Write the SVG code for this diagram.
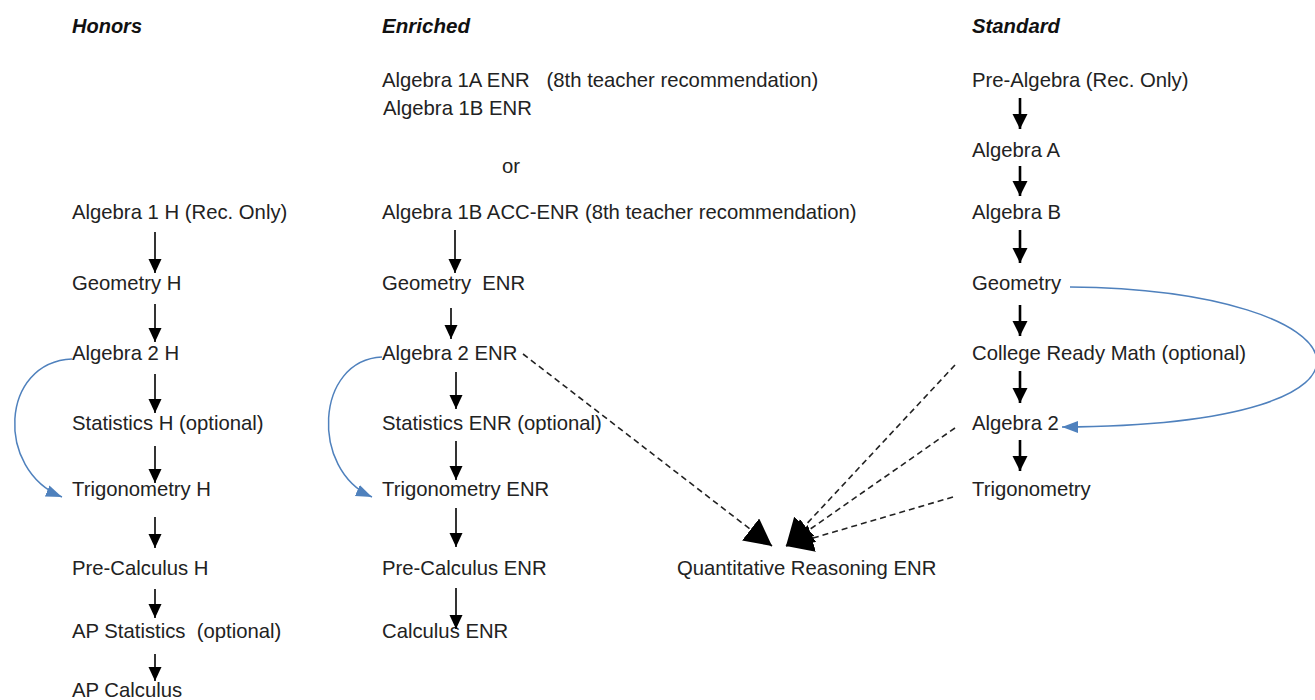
<svg xmlns="http://www.w3.org/2000/svg" width="1315" height="700" viewBox="0 0 1315 700">
<defs>
<style>
.t{font-family:"Liberation Sans",Arial,sans-serif;font-size:20.3px;fill:#222}
.h{font-family:"Liberation Sans Narrow","Liberation Sans",Arial,sans-serif;font-size:21px;font-weight:bold;font-style:italic;fill:#111}
.a{stroke:#000;stroke-width:1.6;fill:none}
.a2{stroke:#000;stroke-width:2.6;fill:none}
.d{stroke:#222;stroke-width:1.6;stroke-dasharray:6,4;fill:none}
.b{stroke:#4f81bd;stroke-width:1.5;fill:none}
</style>
<marker id="ah" markerUnits="userSpaceOnUse" markerWidth="14" markerHeight="16" refX="14" refY="6.5" orient="auto"><path d="M0,0 L14,6.5 L0,13 z" fill="#000"/></marker>
<marker id="ah2" markerUnits="userSpaceOnUse" markerWidth="16" markerHeight="18" refX="15" refY="7.5" orient="auto"><path d="M0,0 L15,7.5 L0,15 z" fill="#000"/></marker>
<marker id="ad" markerUnits="userSpaceOnUse" markerWidth="30" markerHeight="30" refX="27" refY="14" orient="auto"><path d="M0,0 L27,14 L0,28 z" fill="#000"/></marker>
<marker id="ab" markerUnits="userSpaceOnUse" markerWidth="18" markerHeight="14" refX="16" refY="6" orient="auto"><path d="M0,0 L16,6 L0,12 z" fill="#4f81bd"/></marker>
</defs>
<rect width="1315" height="700" fill="#fff"/>
<g id="headings">
<text class="h" x="72" y="33" textLength="70" lengthAdjust="spacingAndGlyphs">Honors</text>
<text class="h" x="382" y="33" textLength="88" lengthAdjust="spacingAndGlyphs">Enriched</text>
<text class="h" x="972" y="33" textLength="88" lengthAdjust="spacingAndGlyphs">Standard</text>
</g>
<g id="honors">
<g id="h1"><text class="t" x="72" y="219">Algebra 1 H (Rec. Only)</text></g>
<g id="h2"><text class="t" x="72" y="290">Geometry H</text></g>
<g id="h3"><text class="t" x="72" y="360">Algebra 2 H</text></g>
<g id="h4"><text class="t" x="72" y="430">Statistics H (optional)</text></g>
<g id="h5"><text class="t" x="72" y="496">Trigonometry H</text></g>
<g id="h6"><text class="t" x="72" y="575">Pre-Calculus H</text></g>
<g id="h7"><text class="t" x="72" y="638" xml:space="preserve">AP Statistics  (optional)</text></g>
<g id="h8"><text class="t" x="72" y="697">AP Calculus</text></g>
</g>
<g id="enriched">
<g id="e0"><text class="t" x="382" y="87" xml:space="preserve">Algebra 1A ENR   (8th teacher recommendation)</text><text class="t" x="383" y="115">Algebra 1B ENR</text></g>
<g id="eor"><text class="t" x="502" y="173">or</text></g>
<g id="e1"><text class="t" x="382" y="219">Algebra 1B ACC-ENR (8th teacher recommendation)</text></g>
<g id="e2"><text class="t" x="382" y="290" xml:space="preserve">Geometry  ENR</text></g>
<g id="e3"><text class="t" x="382" y="360">Algebra 2 ENR</text></g>
<g id="e4"><text class="t" x="382" y="430">Statistics ENR (optional)</text></g>
<g id="e5"><text class="t" x="382" y="496">Trigonometry ENR</text></g>
<g id="e6"><text class="t" x="382" y="575">Pre-Calculus ENR</text></g>
<g id="e7"><text class="t" x="382" y="638">Calculus ENR</text></g>
</g>
<g id="qr"><text class="t" x="677" y="575">Quantitative Reasoning ENR</text></g>
<g id="standard">
<g id="s1"><text class="t" x="972" y="87">Pre-Algebra (Rec. Only)</text></g>
<g id="s2"><text class="t" x="972" y="157">Algebra A</text></g>
<g id="s3"><text class="t" x="972" y="219">Algebra B</text></g>
<g id="s4"><text class="t" x="972" y="290">Geometry</text></g>
<g id="s5"><text class="t" x="972" y="360">College Ready Math (optional)</text></g>
<g id="s6"><text class="t" x="972" y="430">Algebra 2</text></g>
<g id="s7"><text class="t" x="972" y="496">Trigonometry</text></g>
</g>
<g id="connectors">
<line class="a" x1="155" y1="232" x2="155" y2="273" marker-end="url(#ah)"/>
<line class="a" x1="155" y1="304" x2="155" y2="342" marker-end="url(#ah)"/>
<line class="a" x1="155" y1="374" x2="155" y2="413" marker-end="url(#ah)"/>
<line class="a" x1="155" y1="446" x2="155" y2="483" marker-end="url(#ah)"/>
<line class="a" x1="155" y1="517" x2="155" y2="548" marker-end="url(#ah)"/>
<line class="a" x1="155" y1="589" x2="155" y2="618" marker-end="url(#ah)"/>
<line class="a" x1="155" y1="654" x2="155" y2="681" marker-end="url(#ah)"/>
<line class="a" x1="455" y1="230" x2="455" y2="273" marker-end="url(#ah)"/>
<line class="a" x1="451" y1="308" x2="451" y2="339" marker-end="url(#ah)"/>
<line class="a" x1="456" y1="372" x2="456" y2="409" marker-end="url(#ah)"/>
<line class="a" x1="456" y1="441" x2="456" y2="480" marker-end="url(#ah)"/>
<line class="a" x1="456" y1="508" x2="456" y2="547" marker-end="url(#ah)"/>
<line class="a" x1="456" y1="588" x2="456" y2="629" marker-end="url(#ah)"/>
<line class="a2" x1="1020" y1="98" x2="1020" y2="129" marker-end="url(#ah2)"/>
<line class="a2" x1="1020" y1="166" x2="1020" y2="196" marker-end="url(#ah2)"/>
<line class="a2" x1="1020" y1="230" x2="1020" y2="263" marker-end="url(#ah2)"/>
<line class="a2" x1="1020" y1="305" x2="1020" y2="336" marker-end="url(#ah2)"/>
<line class="a2" x1="1020" y1="371" x2="1020" y2="403" marker-end="url(#ah2)"/>
<line class="a2" x1="1020" y1="440" x2="1020" y2="471" marker-end="url(#ah2)"/>
<line class="d" x1="523" y1="354" x2="772" y2="546" marker-end="url(#ad)"/>
<line class="d" x1="955" y1="365" x2="786" y2="546" marker-end="url(#ad)"/>
<line class="d" x1="955" y1="428" x2="786" y2="546" marker-end="url(#ad)"/>
<line class="d" x1="953" y1="497" x2="786" y2="546" marker-end="url(#ad)"/>
<path class="b" d="M72,359 C0,362 -5,470 62,497" marker-end="url(#ab)"/>
<path class="b" d="M382,357 C315,360 310,470 372,497" marker-end="url(#ab)"/>
<path class="b" d="M1070,287 C1370,290 1430,425 1062,427" marker-end="url(#ab)"/>
</g>
</svg>
